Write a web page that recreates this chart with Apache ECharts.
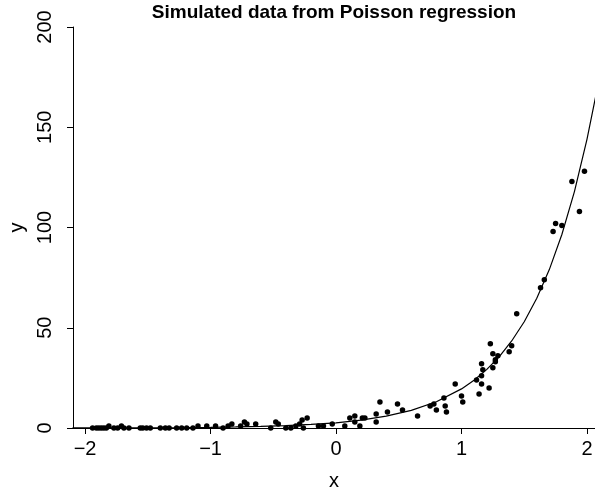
<!DOCTYPE html>
<html>
<head>
<meta charset="utf-8">
<script src="https://cdn.jsdelivr.net/npm/echarts@6/dist/echarts.min.js"></script>
<style>
html,body{margin:0;padding:0;background:#fff;}
#chart{width:595px;height:498px;}
</style>
</head>
<body>
<div id="chart"></div>
<script>
// ---- data ----
const titleText = 'Simulated data from Poisson regression';
const xName = 'x';
const yName = 'y';
const xTicks = [-2, -1, 0, 1, 2];
const xTickLabels = ['\u22122', '\u22121', '0', '1', '2'];
const yTicks = [0, 50, 100, 150, 200];

const ptsX = [
  -1.94,-1.91,-1.89,-1.87,-1.85,-1.83,-1.81,-1.77,-1.74,-1.71,-1.69,-1.65,-1.56,-1.54,-1.51,-1.48,-1.40,-1.36,-1.33,-1.27,-1.23,-1.19,-1.14,-1.10,
  -1.03,-0.96,-0.90,-0.86,-0.83,-0.76,-0.73,-0.71,-0.64,-0.52,-0.48,-0.46,-0.40,-0.36,-0.32,-0.29,-0.27,-0.26,-0.23,-0.14,-0.10,
  -0.03,0.07,0.11,0.15,0.15,0.19,0.21,0.23,0.32,0.32,0.35,0.41,0.49,0.53,0.65,
  0.75,0.78,0.80,0.86,0.87,0.88,0.95,1.00,1.01,1.12,1.14,1.16,1.16,1.16,1.17,1.22,1.23,1.25,1.25,1.27,1.27,1.29,1.38,1.40,
  1.44,1.63,1.66,1.73,1.75,1.80,1.88,1.94,1.98
];
const ptsY = [
  0,0,0,0,0,0,1,0,0,1,0,0,0,0,0,0,0,0,0,0,0,0,0,1,
  1,1,0,1,2,1,3,2,2,0,3,2,0,0,1,2,4,0,5,1,1,
  2,1,5,6,3,1,5,5,7,3,13,8,12,9,6,
  11,12,9,15,11,8,22,16,13,24,17,22,32,26,29,20,42,30,37,33,34,36,38,41,
  57,70,74,98,102,101,123,108,128
];

const curveX = [-2.1,-1.8,-1.5,-1.2,-1.0,-0.8,-0.6,-0.4,-0.2,0,0.2,0.4,0.6,0.8,1.0,1.1,1.2,1.3,1.4,1.5,1.6,1.7,1.8,1.9,2.0,2.07];
const curveY = [0.04,0.07,0.13,0.25,0.36,0.54,0.80,1.20,1.77,2.6,3.9,5.9,8.8,13.1,19.5,23.8,29.1,35.5,43.4,53.0,64.7,79.0,96.5,117.9,144,165.6];

// ---- chart ----
const FONT = '"Liberation Sans", Arial, Helvetica, sans-serif';
const chart = echarts.init(document.getElementById('chart'), null, {renderer: 'canvas'});
const scatterData = ptsX.map((x, i) => [x, ptsY[i]]);
const curveData = curveX.map((x, i) => [x, curveY[i]]);

chart.setOption({
  animation: false,
  backgroundColor: '#ffffff',
  title: {
    text: titleText,
    left: 334,
    textAlign: 'center',
    top: 3,
    padding: 0,
    textStyle: {fontFamily: FONT, fontWeight: 'bold', fontSize: 19, color: '#000'}
  },
  grid: {left: 73, right: 0, top: 27, bottom: 70, containLabel: false, outerBoundsMode: 'none'},
  xAxis: {
    type: 'value',
    min: -2.096,
    max: 2.064,
    name: xName,
    nameLocation: 'middle',
    nameGap: 43,
    nameTextStyle: {fontFamily: FONT, fontSize: 20, color: '#000'},
    splitLine: {show: false},
    axisLine: {show: true, onZero: false, lineStyle: {color: '#000', width: 1}},
    axisTick: {show: true, inside: false, length: 6, customValues: xTicks, lineStyle: {color: '#000', width: 1}},
    axisLabel: {
      customValues: xTicks,
      margin: 11,
      fontFamily: FONT, fontSize: 20, color: '#000',
      formatter: v => xTickLabels[xTicks.indexOf(Math.round(v))]
    }
  },
  yAxis: {
    type: 'value',
    min: yTicks[0],
    max: yTicks[yTicks.length - 1],
    interval: 50,
    name: yName,
    nameLocation: 'middle',
    nameGap: 44,
    nameRotate: 90,
    nameTextStyle: {fontFamily: FONT, fontSize: 20, color: '#000'},
    splitLine: {show: false},
    axisLine: {show: true, onZero: false, lineStyle: {color: '#000', width: 1}},
    axisTick: {show: true, inside: false, length: 6, lineStyle: {color: '#000', width: 1}},
    axisLabel: {
      rotate: 90,
      margin: 18,
      fontFamily: FONT, fontSize: 20, color: '#000'
    }
  },
  series: [
    {
      type: 'line',
      data: curveData,
      showSymbol: false,
      symbol: 'none',
      smooth: false,
      lineStyle: {color: '#000', width: 1.2},
      silent: true,
      z: 2
    },
    {
      type: 'scatter',
      data: scatterData,
      symbol: 'circle',
      symbolSize: 5.5,
      itemStyle: {color: '#000', opacity: 1},
      silent: true,
      z: 3
    }
  ]
});
</script>
</body>
</html>
